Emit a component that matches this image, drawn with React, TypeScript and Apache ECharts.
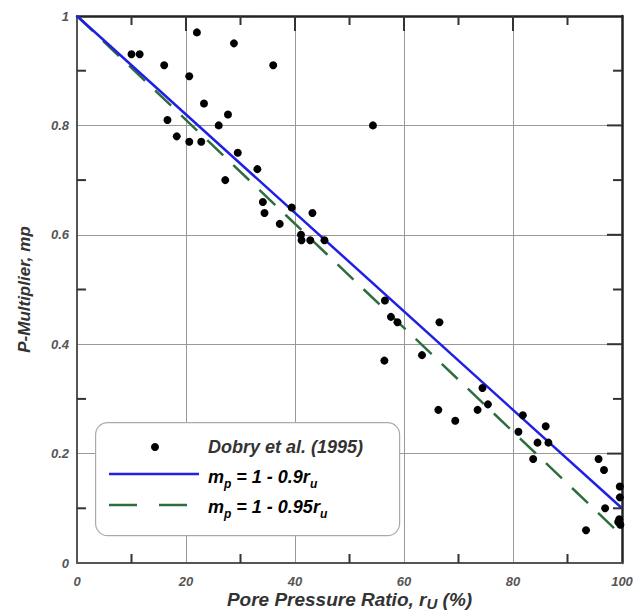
import React, { useEffect, useRef } from "react";
import * as echarts from "echarts";

const dobryPoints: [number, number][] = [
  [10, 0.93], [11.5, 0.93], [16, 0.91], [22, 0.97], [28.8, 0.95], [36, 0.91],
  [20.6, 0.89], [23.3, 0.84], [27.7, 0.82], [16.6, 0.81], [26, 0.8], [54.3, 0.8],
  [18.3, 0.78], [20.6, 0.77], [22.8, 0.77], [29.5, 0.75], [33.1, 0.72], [27.2, 0.7],
  [34.1, 0.66], [34.4, 0.64], [39.4, 0.65], [43.2, 0.64], [37.2, 0.62], [41.1, 0.6],
  [41.2, 0.59], [42.8, 0.59], [45.4, 0.59], [56.5, 0.48], [57.6, 0.45], [58.8, 0.44],
  [66.5, 0.44], [56.4, 0.37], [63.3, 0.38], [74.4, 0.32], [75.4, 0.29], [66.3, 0.28],
  [73.5, 0.28], [69.4, 0.26], [81.8, 0.27], [81, 0.24], [86, 0.25], [84.5, 0.22],
  [86.5, 0.22], [83.7, 0.19], [95.7, 0.19], [96.7, 0.17], [96.9, 0.1], [93.4, 0.06],
  [99.6, 0.14], [99.6, 0.12], [99.5, 0.08], [99.7, 0.07], [99.3, 0.075],
];
const blueLine: [number, number][] = [[0, 1], [100, 0.1]];
const greenLine: [number, number][] = [[0, 1], [100, 0.05]];
const xTicks = [0, 20, 40, 60, 80, 100];
const yTicks = [0, 0.2, 0.4, 0.6, 0.8, 1];
const xMinorTicks = [10, 30, 50, 70, 90];
const yMinorTicks = [0.1, 0.3, 0.5, 0.7, 0.9];

const FONT = "Liberation Sans";
const TXT = "#333";
const BLUE = "#1f1fe6";
const GREEN = "#2e6e3e";

export default function App() {
  const ref = useRef<HTMLDivElement>(null);
  useEffect(() => {
    if (!ref.current) return;
    const chart = echarts.init(ref.current, undefined, { renderer: "svg" });
    const tickLabel = {
      fontFamily: FONT, fontStyle: "italic", fontWeight: "bold", fontSize: 13, color: "#555",
    };
    const xMin = xTicks[0], xMax = xTicks[xTicks.length - 1];
    const yMin = yTicks[0], yMax = yTicks[yTicks.length - 1];
    const mk = (isX: boolean, outer: boolean): any => ({
      type: "value",
      min: isX ? xMin : yMin,
      max: isX ? xMax : yMax,
      interval: isX ? 20 : 0.2,
      axisLine: { show: true, onZero: false, lineStyle: { color: outer ? "#222" : "#555", width: outer ? 2.5 : 2 } },
      axisTick: { show: false },
      minorTick: { show: false },
    });
    const sub = { fontFamily: FONT, fontStyle: "italic", fontWeight: "bold", color: TXT };
    chart.setOption({
      animation: false,
      grid: { left: 77, top: 16, right: 13, bottom: 50, containLabel: false, outerBoundsMode: "none" },
      xAxis: [
        {
          ...mk(true, false), position: "bottom",
          axisLabel: { ...tickLabel, margin: 12 },
          splitLine: { show: true, lineStyle: { color: "#999", width: 1 } },
          name: "Pore Pressure Ratio, r{s|U} (%)", nameLocation: "middle", nameGap: 24,
          nameMoveOverlap: false,
          nameTextStyle: {
            fontFamily: FONT, fontStyle: "italic", fontWeight: "bold", fontSize: 19, color: TXT, lineHeight: 24,
            rich: { s: { ...sub, fontSize: 15, lineHeight: 12, verticalAlign: "bottom" } },
          },
        },
        { ...mk(true, true), position: "top", axisLabel: { show: false }, splitLine: { show: false } },
      ],
      yAxis: [
        {
          ...mk(false, false), position: "left",
          axisLabel: { ...tickLabel, margin: 8 },
          splitLine: { show: true, lineStyle: { color: "#999", width: 1 } },
          name: "P-Multiplier, mp", nameLocation: "middle", nameGap: 44,
          nameMoveOverlap: false,
          nameTextStyle: {
            fontFamily: FONT, fontStyle: "italic", fontWeight: "bold", fontSize: 17, color: TXT,
          },
        },
        { ...mk(false, true), position: "right", axisLabel: { show: false }, splitLine: { show: false } },
      ],
      series: [
        {
          type: "line", data: blueLine, showSymbol: false, symbol: "none",
          lineStyle: { color: BLUE, width: 2.5 }, z: 3,
        },
        {
          type: "line", data: greenLine, showSymbol: false, symbol: "none",
          lineStyle: { color: GREEN, width: 2.5, type: [22, 14] }, z: 2,
        },
        {
          type: "scatter", data: dobryPoints, symbol: "circle", symbolSize: 8,
          itemStyle: { color: "#000", opacity: 1 }, z: 4,
        },
      ],
    });

    // Axis ticks, positioned through the chart's own scales
    const px = (p: [number, number]) => chart.convertToPixel({ xAxisIndex: 0, yAxisIndex: 0 }, p) as number[];
    const tickStyle = { stroke: "#333", lineWidth: 2 };
    const ticks: any[] = [];
    const ok = (a: any) => Array.isArray(a) && isFinite(a[0]) && isFinite(a[1]);
    const addX = (v: number, len: number, bottom: boolean) => {
      const b = px([v, yMin]);
      const t = px([v, yMax]);
      if (!ok(b) || !ok(t)) return;
      if (bottom) ticks.push({ type: "line", z: 5, silent: true, shape: { x1: b[0], y1: b[1], x2: b[0], y2: b[1] - len }, style: tickStyle });
      ticks.push({ type: "line", z: 5, silent: true, shape: { x1: t[0], y1: t[1], x2: t[0], y2: t[1] + len }, style: tickStyle });
    };
    const addY = (v: number, len: number, left: boolean) => {
      const l = px([xMin, v]);
      const r = px([xMax, v]);
      if (!ok(l) || !ok(r)) return;
      if (left) ticks.push({ type: "line", z: 5, silent: true, shape: { x1: l[0], y1: l[1], x2: l[0] + len, y2: l[1] }, style: tickStyle });
      ticks.push({ type: "line", z: 5, silent: true, shape: { x1: r[0], y1: r[1], x2: r[0] - len, y2: r[1] }, style: tickStyle });
    };
    xMinorTicks.forEach((v) => addX(v, 9, true));
    yMinorTicks.forEach((v) => addY(v, 9, true));
    xTicks.slice(1, -1).forEach((v) => addX(v, 15, false));
    yTicks.slice(1, -1).forEach((v) => addY(v, 15, false));

    const legend: any[] = [
      {
        type: "rect", left: 95, top: 422, z: 10,
        shape: { width: 304, height: 113, r: 12 },
        style: { fill: "#fff", stroke: "#aaa", lineWidth: 1.2 },
      },
      { type: "circle", z: 11, shape: { cx: 155, cy: 447, r: 4 }, style: { fill: "#000" } },
      { type: "line", z: 11, shape: { x1: 109, y1: 474, x2: 199, y2: 474 }, style: { stroke: BLUE, lineWidth: 2.5 } },
      { type: "line", z: 11, shape: { x1: 109, y1: 505, x2: 137, y2: 505 }, style: { stroke: GREEN, lineWidth: 2.5 } },
      { type: "line", z: 11, shape: { x1: 159, y1: 505, x2: 187, y2: 505 }, style: { stroke: GREEN, lineWidth: 2.5 } },
      {
        type: "text", z: 11, x: 208, y: 447,
        style: { text: "Dobry et al. (1995)", fontFamily: FONT, fontStyle: "italic", fontWeight: "bold", fontSize: 18, fill: TXT, verticalAlign: "middle" },
      },
      {
        type: "text", z: 11, x: 208, y: 477,
        style: {
          text: "{m|m}{s|p}{m| = 1 - 0.9r}{s|u}", verticalAlign: "middle",
          rich: {
            m: { ...sub, fontSize: 18, lineHeight: 26, verticalAlign: "middle" },
            s: { ...sub, fontSize: 12, lineHeight: 12, verticalAlign: "bottom" },
          },
        },
      },
      {
        type: "text", z: 11, x: 208, y: 507,
        style: {
          text: "{m|m}{s|p}{m| = 1 - 0.95r}{s|u}", verticalAlign: "middle",
          rich: {
            m: { ...sub, fontSize: 18, lineHeight: 26, verticalAlign: "middle" },
            s: { ...sub, fontSize: 12, lineHeight: 12, verticalAlign: "bottom" },
          },
        },
      },
    ];
    chart.setOption({ graphic: [...ticks, ...legend] });
    return () => chart.dispose();
  }, []);
  return <div ref={ref} style={{ position: "fixed", left: 0, top: 0, width: 635, height: 613, background: "#fff" }} />;
}
